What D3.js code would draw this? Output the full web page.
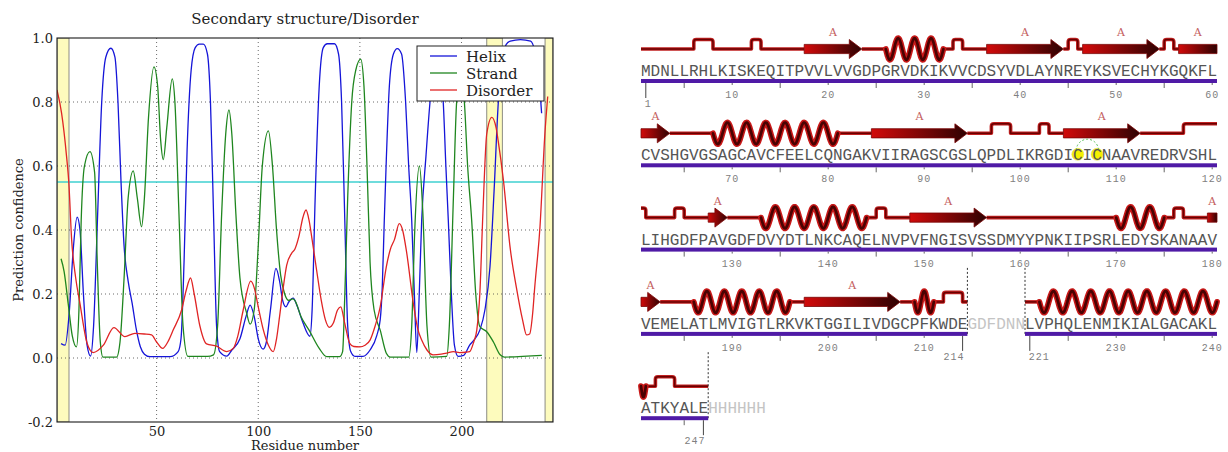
<!DOCTYPE html>
<html>
<head>
<meta charset="utf-8">
<script src="https://cdn.jsdelivr.net/npm/d3@7"></script>
<style>
  body { margin: 0; background: #fff; }
  svg { display: block; }
</style>
</head>
<body>
<svg id="chart" width="1228" height="452"></svg>
<script>
// ---------------------------------------------------------------
// Prediction profiles: [residue, confidence]
// ---------------------------------------------------------------
const helixPts = [[3,0.045],[5,0.04],[7,0.14],[9,0.34],[10.9,0.44],[12.3,0.4],[14,0.2],[15.8,0.04],[17.5,0.006],[19,0.1],[21,0.45],[23,0.8],[25,0.94],[27.5,0.968],[29.5,0.94],[31,0.8],[32.5,0.55],[34,0.35],[36,0.24],[38,0.17],[40,0.09],[42,0.035],[44,0.012],[46.7,0.004],[56.6,0.004],[60.6,0.02],[62,0.06],[63.5,0.3],[65,0.65],[67,0.9],[69,0.97],[71,0.981],[73,0.981],[75,0.95],[76.5,0.8],[78,0.45],[79.5,0.1],[81,0.02],[84.5,0.006],[87,0.025],[91,0.06],[94,0.13],[96,0.165],[98,0.13],[100,0.06],[102.4,0.028],[104,0.05],[106,0.15],[108.7,0.28],[110.5,0.24],[112,0.18],[113.6,0.16],[115,0.175],[117.2,0.187],[119,0.165],[122,0.11],[125.4,0.068],[126.5,0.15],[128,0.5],[130,0.85],[132,0.97],[134,0.982],[137.5,0.982],[139.5,0.95],[141,0.8],[142.5,0.45],[144,0.1],[145.5,0.02],[147.6,0.005],[151.5,0.005],[155,0.025],[158.3,0.07],[160,0.12],[161,0.22],[162,0.43],[163,0.62],[164.5,0.85],[166.5,0.95],[168.4,0.967],[170.5,0.95],[172.5,0.8],[174,0.6],[175.5,0.43],[176.8,0.2],[178,0.017],[179.2,0.2],[180.4,0.43],[182.5,0.63],[184.5,0.8],[186,0.89],[187.7,0.92],[189.5,0.89],[191,0.8],[192.3,0.6],[193.5,0.43],[195,0.2],[196.5,0.04],[198.3,0.005],[201,0.008],[204,0.04],[206,0.055],[209,0.087],[211.5,0.15],[214,0.285],[216,0.52],[218.1,0.8],[220,0.93],[222,0.98],[224,0.99],[229,0.995],[234,0.99],[236,0.96],[238,0.88],[239.4,0.765]];

const strandPts = [[3,0.31],[4.5,0.27],[6.5,0.17],[8.5,0.07],[10.6,0.035],[11.8,0.15],[12.9,0.43],[14.5,0.6],[17.2,0.645],[19.5,0.58],[20.8,0.3],[22.3,0.05],[23.6,0.003],[30.3,0.003],[32,0.05],[34,0.25],[36,0.5],[38.5,0.585],[40.5,0.5],[42.6,0.41],[44,0.5],[46,0.75],[48.7,0.91],[50.5,0.85],[52,0.68],[53.3,0.62],[55,0.72],[57.7,0.872],[59,0.8],[61,0.45],[63,0.1],[65.4,0.005],[75,0.005],[78,0.01],[80,0.1],[82,0.45],[84,0.7],[85.6,0.775],[87,0.7],[89,0.45],[91,0.25],[94.3,0.14],[96,0.106],[98,0.15],[100,0.35],[102,0.6],[105,0.71],[107,0.6],[109,0.4],[111,0.26],[113,0.2],[115,0.18],[117,0.185],[118,0.18],[121,0.13],[125,0.087],[130,0.03],[133.7,0.004],[140,0.004],[141.5,0.02],[142.6,0.2],[144,0.5],[146,0.8],[148,0.9],[150.4,0.934],[152,0.85],[153.5,0.6],[155,0.3],[157,0.15],[160,0.087],[163,0.015],[165,0.003],[174,0.003],[175.5,0.1],[177,0.4],[179.3,0.6],[181,0.45],[183,0.1],[185,0.003],[192.7,0.005],[194,0.1],[196,0.5],[197.6,0.8],[199.5,0.88],[201.4,0.8],[203,0.6],[205,0.43],[207,0.2],[209,0.098],[212.4,0.082],[215.7,0.05],[219,0.01],[221,0.003],[239.5,0.008]];

const disorderPts = [[1,0.8375],[3.25,0.765],[5.7,0.63],[6.8,0.55],[8.2,0.37],[10.2,0.25],[12.3,0.17],[15.8,0.046],[18.8,0.017],[23.8,0.04],[29,0.095],[34.4,0.067],[39.3,0.077],[44,0.075],[47.5,0.072],[50,0.05],[53,0.03],[55.5,0.05],[58.2,0.088],[62.3,0.15],[64.5,0.21],[66.7,0.25],[68.5,0.2],[71.3,0.1],[74.6,0.044],[79.5,0.037],[84.5,0.02],[87.7,0.03],[90,0.07],[92.6,0.15],[96.3,0.24],[98,0.22],[100,0.16],[102.5,0.088],[105,0.04],[107.4,0.02],[109,0.06],[110.5,0.13],[112.3,0.22],[114,0.29],[116.4,0.327],[118,0.34],[120,0.38],[122,0.44],[123.5,0.4625],[125,0.43],[126.5,0.37],[128.7,0.275],[131,0.18],[133,0.12],[135,0.096],[137,0.11],[139,0.15],[140.6,0.16],[142.5,0.11],[145,0.046],[147,0.036],[150,0.035],[152.5,0.04],[155,0.056],[157.5,0.1],[160,0.16],[163,0.285],[165,0.34],[167,0.37],[169.4,0.42],[171,0.4],[173,0.33],[176.3,0.17],[178.5,0.09],[180.4,0.056],[183,0.025],[186,0.01],[190,0.012],[192.7,0.015],[196,0.02],[199,0.017],[202,0.018],[204,0.02],[206,0.05],[207.5,0.087],[209,0.2],[210.5,0.45],[212.4,0.7],[214.9,0.752],[217,0.72],[218,0.68],[220.6,0.556],[224,0.34],[227,0.22],[230,0.12],[232,0.072],[233.5,0.075],[235,0.14],[236,0.22],[238.6,0.41],[241,0.7],[242.4,0.817]];

const seriesNames  = ["Helix", "Strand", "Disorder"];
const seriesColors = ["#1515d8", "#1f861f", "#e02424"];
const confidenceCutoff = 0.55;
const shadedSpans = [[1, 6.9], [212.4, 220.1], [241.1, 245]];
const xTicks = [50, 100, 150, 200];
const yTicks = [-0.2, 0.0, 0.2, 0.4, 0.6, 0.8, 1.0];

// ---------------------------------------------------------------
// Sequence and secondary-structure annotation
// ---------------------------------------------------------------
const sequence =
  "MDNLLRHLKISKEQITPVVLVVGDPGRVDKIKVVCDSYVDLAYNREYKSVECHYKGQKFL" +
  "CVSHGVGSAGCAVCFEELCQNGAKVIIRAGSCGSLQPDLIKRGDICICNAAVREDRVSHL" +
  "LIHGDFPAVGDFDVYDTLNKCAQELNVPVFNGISVSSDMYYPNKIIPSRLEDYSKANAAV" +
  "VEMELATLMVIGTLRKVKTGGILIVDGCPFKWDEGDFDNNLVPHQLENMIKIALGACAKL" +
  "ATKYALEHHHHHH";
const modelledSegments = [[1, 214], [221, 247]];
const strands  = [[18,23],[37,44],[47,54],[57,63],[85,94],[105,112],[128,129],[149,156],[180,182],[198,207]];
const helices  = [[26,32],[68,81],[133,144],[170,175],[186,196],[209,211],[222,241]];
const turns    = [[6,8],[12,13],[33,34],[45,46],[55,56],[97,99],[102,103],[117,121],[124,125],[145,146],[176,177],[212,214],[242,244]];
const sheetLabel = "A";
const disulfide = [106, 108];

const svg = d3.select("#chart");
const defs = svg.append("defs");

// ================= left panel: confidence profiles =================
const plot = { left: 57, right: 553, top: 38, bottom: 422 };
const x = d3.scaleLinear().domain([1, 245]).range([plot.left, plot.right]);
const y = d3.scaleLinear().domain([-0.2, 1.0]).range([plot.bottom, plot.top]);
const serif = "'DejaVu Serif', serif";

defs.append("clipPath").attr("id", "plotClip").append("rect")
  .attr("x", plot.left).attr("y", plot.top)
  .attr("width", plot.right - plot.left).attr("height", plot.bottom - plot.top);

const lp = svg.append("g");

lp.append("g").selectAll("rect").data(shadedSpans).join("rect")
  .attr("x", d => x(d[0])).attr("y", plot.top)
  .attr("width", d => x(d[1]) - x(d[0])).attr("height", plot.bottom - plot.top)
  .attr("fill", "#fdfbbd").attr("stroke", "#8c8c84").attr("stroke-width", 1)
  .attr("clip-path", "url(#plotClip)");

// dotted grid
const grid = lp.append("g").attr("stroke", "#444").attr("stroke-width", 0.8)
  .attr("stroke-dasharray", "1,3");
grid.selectAll("line.v").data(xTicks).join("line")
  .attr("x1", d => x(d)).attr("x2", d => x(d)).attr("y1", plot.top).attr("y2", plot.bottom);
grid.selectAll("line.h").data(yTicks.filter(v => v > -0.2 && v < 1.0)).join("line")
  .attr("x1", plot.left).attr("x2", plot.right).attr("y1", d => y(d)).attr("y2", d => y(d));

// cutoff line
lp.append("line")
  .attr("x1", plot.left).attr("x2", plot.right)
  .attr("y1", y(confidenceCutoff)).attr("y2", y(confidenceCutoff))
  .attr("stroke", "#3fd0d0").attr("stroke-width", 1.6);

const line = d3.line().x(d => x(d[0])).y(d => y(d[1])).curve(d3.curveMonotoneX);
const curves = lp.append("g").attr("clip-path", "url(#plotClip)");
[helixPts, strandPts, disorderPts].forEach((pts, i) => {
  curves.append("path").datum(pts).attr("d", line)
    .attr("fill", "none").attr("stroke", seriesColors[i]).attr("stroke-width", 1.3);
});

// frame
lp.append("rect").attr("x", plot.left).attr("y", plot.top)
  .attr("width", plot.right - plot.left).attr("height", plot.bottom - plot.top)
  .attr("fill", "none").attr("stroke", "#1a1a1a").attr("stroke-width", 1.1);

// axes (labels only)
const yAxis = lp.append("g").attr("transform", `translate(${plot.left},0)`)
  .call(d3.axisLeft(y).tickValues(yTicks).tickSize(0).tickPadding(4).tickFormat(d => d.toFixed(1)));
const xAxis = lp.append("g").attr("transform", `translate(0,${plot.bottom})`)
  .call(d3.axisBottom(x).tickValues(xTicks).tickSize(0).tickPadding(5).tickFormat(d3.format("d")));
[yAxis, xAxis].forEach(a => {
  a.select(".domain").remove();
  a.selectAll("text").attr("font-family", serif).attr("font-size", 13).attr("fill", "#222");
});

lp.append("text").attr("x", 305).attr("y", 24).attr("text-anchor", "middle")
  .attr("font-family", serif).attr("font-size", 15).attr("fill", "#222")
  .text("Secondary structure/Disorder");
lp.append("text").attr("transform", `translate(23,${(plot.top + plot.bottom) / 2}) rotate(-90)`)
  .attr("text-anchor", "middle").attr("font-family", serif).attr("font-size", 13).attr("fill", "#222")
  .text("Prediction confidence");
lp.append("text").attr("x", 305).attr("y", 450).attr("text-anchor", "middle")
  .attr("font-family", serif).attr("font-size", 13).attr("fill", "#222")
  .text("Residue number");

// legend
const legend = lp.append("g");
legend.append("rect").attr("x", 417).attr("y", 46).attr("width", 127).attr("height", 55)
  .attr("fill", "#fff").attr("stroke", "#222").attr("stroke-width", 1);
seriesNames.forEach((name, i) => {
  const by = 61.5 + i * 17;
  legend.append("line").attr("x1", 430).attr("x2", 457).attr("y1", by - 5.5).attr("y2", by - 5.5)
    .attr("stroke", seriesColors[i]).attr("stroke-width", 1.3);
  legend.append("text").attr("x", 466).attr("y", by)
    .attr("font-family", serif).attr("font-size", 15).attr("fill", "#222").text(name);
});

// ================= right panel: sequence wiring diagram =================
const PER_ROW = 60, CHAR_W = 9.6, SEQ_X = 641, BASE0 = 76, ROW_GAP = 84.3;
const rowOf = n => Math.floor((n - 1) / PER_ROW);
const cx = n => SEQ_X + ((n - 1) % PER_ROW + 0.5) * CHAR_W;
const leftEdge = n => cx(n) - CHAR_W / 2;
const rightEdge = n => cx(n) + CHAR_W / 2;
const baseY = r => BASE0 + r * ROW_GAP;
const lineY = r => baseY(r) - 27;
const ROW_END_X = SEQ_X + PER_ROW * CHAR_W;
const nRows = Math.ceil(sequence.length / PER_ROW);
const mono = "'Liberation Mono', 'DejaVu Sans Mono', monospace";
const isModelled = n => modelledSegments.some(s => n >= s[0] && n <= s[1]);

const rp = svg.append("g");

// split an element [s,e] into per-row pieces
function pieces(s, e) {
  const out = [];
  for (let r = rowOf(s); r <= rowOf(e); r++) {
    const ps = Math.max(s, r * PER_ROW + 1), pe = Math.min(e, (r + 1) * PER_ROW);
    out.push({ row: r, ps, pe, first: ps === s, last: pe === e });
  }
  return out;
}

// occupied x-ranges per row (strands and helices)
const occupied = d3.range(nRows).map(() => []);
const strandPieces = strands.flatMap(d => pieces(d[0], d[1]));
const helixPieces = helices.flatMap(d => pieces(d[0], d[1]));
strandPieces.forEach(p => {
  p.x0 = p.first ? leftEdge(p.ps) : SEQ_X;
  p.x1 = p.last ? rightEdge(p.pe) : ROW_END_X;
  occupied[p.row].push([p.x0, p.x1]);
});
helixPieces.forEach(p => {
  p.x0 = p.first ? cx(p.ps) : SEQ_X;
  p.x1 = p.last ? cx(p.pe) : ROW_END_X;
  occupied[p.row].push([p.x0, p.x1]);
});
const turnPieces = turns.flatMap(d => pieces(d[0], d[1])).map(p => ({
  row: p.row,
  x0: p.first ? cx(p.ps) : SEQ_X, x1: p.last ? cx(p.pe) : ROW_END_X,
  openL: !p.first, openR: !p.last
}));

// chain extents per row
const chainRanges = d3.range(nRows).map(() => []);
modelledSegments.forEach(seg => {
  pieces(seg[0], seg[1]).forEach(p => {
    chainRanges[p.row].push([leftEdge(p.ps), rightEdge(p.pe)]);
  });
});

// loop path through the gaps, with raised turn bumps
const BUMP = 9.5, RAD = 2.5;
function loopPath(row, a, b) {
  const ly = lineY(row);
  const ts = turnPieces.filter(t => t.row === row && t.x1 > a - 0.1 && t.x0 < b + 0.1)
    .sort((p, q) => p.x0 - q.x0);
  const p = d3.path();
  const startRaised = ts.length && ts[0].openL && ts[0].x0 <= a + 0.1;
  p.moveTo(a, startRaised ? ly - BUMP : ly);
  ts.forEach(t => {
    if (!(t.openL && t.x0 <= a + 0.1)) {
      p.lineTo(t.x0, ly);
      p.lineTo(t.x0, ly - BUMP + RAD);
      p.quadraticCurveTo(t.x0, ly - BUMP, t.x0 + RAD, ly - BUMP);
    }
    if (t.openR && t.x1 >= b - 0.1) {
      p.lineTo(b, ly - BUMP);
    } else {
      p.lineTo(t.x1 - RAD, ly - BUMP);
      p.quadraticCurveTo(t.x1, ly - BUMP, t.x1, ly - BUMP + RAD);
      p.lineTo(t.x1, ly);
    }
  });
  const last = ts[ts.length - 1];
  if (!(last && last.openR && last.x1 >= b - 0.1)) p.lineTo(b, ly);
  return p.toString();
}

const loops = [];
chainRanges.forEach((ranges, row) => {
  ranges.forEach(([a, b]) => {
    const occ = occupied[row].filter(o => o[1] > a && o[0] < b).sort((p, q) => p[0] - q[0]);
    let cur = a;
    occ.forEach(o => {
      if (o[0] > cur + 0.5) loops.push({ row, a: cur, b: o[0] });
      cur = Math.max(cur, o[1]);
    });
    if (b > cur + 0.5) loops.push({ row, a: cur, b });
  });
});

const loopG = rp.append("g").attr("fill", "none").attr("stroke-linejoin", "round");
loopG.selectAll("path.o").data(loops).join("path")
  .attr("d", d => loopPath(d.row, d.a, d.b)).attr("stroke", "#c02020").attr("stroke-width", 3.6);
loopG.selectAll("path.i").data(loops).join("path")
  .attr("d", d => loopPath(d.row, d.a, d.b)).attr("stroke", "#6a0000").attr("stroke-width", 1.5);

// helices as waves
function helixD(p) {
  const ly = lineY(p.row), len = p.x1 - p.x0;
  const n = Math.floor(len / 18.6) + 0.5, period = len / n;
  const steps = Math.max(8, Math.ceil(len * 2));
  const pts = d3.range(steps + 1).map(k => {
    const xx = p.x0 + len * k / steps;
    return [xx, ly + 10.8 * Math.sin(2 * Math.PI * (xx - p.x0) / period)];
  });
  return d3.line().curve(d3.curveCatmullRom)(pts);
}
const helixG = rp.append("g").attr("fill", "none").attr("stroke-linecap", "round").attr("stroke-linejoin", "round");
helixG.selectAll("path.o").data(helixPieces).join("path").attr("d", helixD)
  .attr("stroke", "#c81818").attr("stroke-width", 5.8);
helixG.selectAll("path.i").data(helixPieces).join("path").attr("d", helixD)
  .attr("stroke", "#4a0202").attr("stroke-width", 2.7);

// strands as shaded arrows
const grad = defs.append("linearGradient").attr("id", "strandFill")
  .attr("x1", 0).attr("x2", 1).attr("y1", 0).attr("y2", 0);
grad.append("stop").attr("offset", "0%").attr("stop-color", "#d20a0a");
grad.append("stop").attr("offset", "100%").attr("stop-color", "#2e0202");
function strandD(p) {
  const ly = lineY(p.row), body = 4.6, head = 9.5, headLen = Math.min(12.5, (p.x1 - p.x0) * 0.7);
  if (!p.last) {
    return `M${p.x0},${ly - body}H${p.x1}V${ly + body}H${p.x0}Z`;
  }
  const hx = p.x1 - headLen;
  return `M${p.x0},${ly - body}H${hx}V${ly - head}L${p.x1},${ly}L${hx},${ly + head}V${ly + body}H${p.x0}Z`;
}
rp.append("g").selectAll("path").data(strandPieces).join("path")
  .attr("d", strandD).attr("fill", "url(#strandFill)")
  .attr("stroke", "#7a0505").attr("stroke-width", 0.8).attr("stroke-linejoin", "round");
rp.append("g").selectAll("text").data(strandPieces).join("text")
  .attr("x", d => (d.x0 + d.x1) / 2).attr("y", d => lineY(d.row) - 13)
  .attr("text-anchor", "middle").attr("font-family", serif).attr("font-size", 11)
  .attr("fill", "#c46060").text(sheetLabel);

// chain break markers
const breakMarks = [];
modelledSegments.forEach(seg => {
  if (seg[0] > 1) breakMarks.push({ row: rowOf(seg[0]), x: leftEdge(seg[0]) });
  breakMarks.push({ row: rowOf(seg[1]), x: rightEdge(seg[1]) });
});
rp.append("g").selectAll("line").data(breakMarks).join("line")
  .attr("x1", d => d.x).attr("x2", d => d.x)
  .attr("y1", d => lineY(d.row) - 34).attr("y2", d => baseY(d.row) + 6)
  .attr("stroke", "#333").attr("stroke-width", 1).attr("stroke-dasharray", "2,2");

// disulfide highlight
rp.append("g").selectAll("circle").data(disulfide).join("circle")
  .attr("cx", d => cx(d)).attr("cy", d => baseY(rowOf(d)) - 6).attr("r", 6)
  .attr("fill", "#f4f000").attr("stroke", "#e8e060").attr("stroke-width", 0.6);
{
  const a = cx(disulfide[0]), b = cx(disulfide[1]), yy = baseY(rowOf(disulfide[0])) - 10;
  const r = (b - a) / 2 + 1.5;
  rp.append("path")
    .attr("d", `M${(a + b) / 2 - r},${yy} A${r},${r} 0 0 1 ${(a + b) / 2 + r},${yy}`)
    .attr("fill", "none").attr("stroke", "#55c055").attr("stroke-width", 1).attr("stroke-dasharray", "2,2");
}

// sequence letters
const residues = Array.from(sequence, (c, i) => ({ n: i + 1, c }));
rp.append("g").selectAll("text").data(residues).join("text")
  .attr("x", d => cx(d.n)).attr("y", d => baseY(rowOf(d.n)))
  .attr("text-anchor", "middle").attr("font-family", mono).attr("font-size", 16)
  .attr("fill", d => isModelled(d.n) ? "#555" : "#c4c4c4").text(d => d.c);

// residue bars
const barG = rp.append("g");
chainRanges.forEach((ranges, row) => {
  ranges.forEach(([a, b]) => {
    barG.append("rect").attr("x", a).attr("y", baseY(row) + 3).attr("width", b - a).attr("height", 4)
      .attr("fill", "#4f1aa6");
  });
});

// ticks and numbering
const numbered = d3.range(1, 248).filter(n => isModelled(n));
const tickG = rp.append("g").attr("stroke", "#666").attr("stroke-width", 1);
tickG.selectAll("line").data(numbered.filter(n => n % 5 === 0)).join("line")
  .attr("x1", d => cx(d)).attr("x2", d => cx(d))
  .attr("y1", d => baseY(rowOf(d)) + 7).attr("y2", d => baseY(rowOf(d)) + (d % 10 === 0 ? 9 : 12));
rp.append("g").selectAll("text").data(numbered.filter(n => n % 10 === 0)).join("text")
  .attr("x", d => cx(d)).attr("y", d => baseY(rowOf(d)) + 22)
  .attr("text-anchor", "middle").attr("font-family", mono).attr("font-size", 10)
  .attr("letter-spacing", 1).attr("fill", "#808080").text(d => d);

// chain start / end labels
const ends = modelledSegments.flatMap(s => [{ n: s[0], start: true }, { n: s[1], start: false }]);
tickG.selectAll("line.end").data(ends).join("line")
  .attr("x1", d => cx(d.n)).attr("x2", d => cx(d.n))
  .attr("y1", d => baseY(rowOf(d.n)) + 7).attr("y2", d => baseY(rowOf(d.n)) + 22)
  .attr("stroke", "#444");
rp.append("g").selectAll("text").data(ends).join("text")
  .attr("x", d => d.start ? cx(d.n) - 1 : cx(d.n) + 2)
  .attr("y", d => baseY(rowOf(d.n)) + 31)
  .attr("text-anchor", d => d.start ? "start" : "end")
  .attr("font-family", mono).attr("font-size", 10).attr("letter-spacing", 1)
  .attr("fill", "#808080").text(d => d.n);
</script>
</body>
</html>
